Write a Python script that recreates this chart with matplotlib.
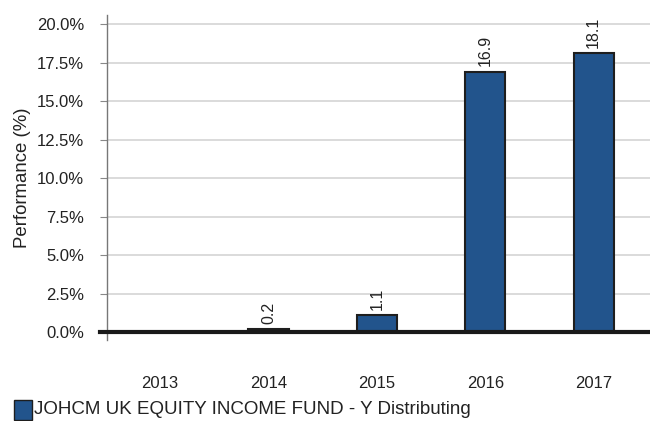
import matplotlib
matplotlib.use("Agg")
import matplotlib.pyplot as plt
import matplotlib.transforms as mtransforms
from matplotlib.patches import Rectangle

years = ["2013", "2014", "2015", "2016", "2017"]
values = [0.0, 0.2, 1.1, 16.9, 18.1]
labels = ["", "0.2", "1.1", "16.9", "18.1"]
yticks = [0, 2.5, 5, 7.5, 10, 12.5, 15, 17.5, 20]
series_name = "JOHCM UK EQUITY INCOME FUND - Y Distributing"

plt.rcParams['font.family'] = ['Liberation Sans', 'DejaVu Sans']
bar_color = "#22548c"
edge_color = "#1e1e1e"
text_color = "#222222"

fig = plt.figure(figsize=(6.5, 4.21), dpi=100)
ax = fig.add_axes([0.1646, 0.192, 0.8354, 0.772])

x = list(range(len(years)))
ax.bar(x, values, width=0.37, color=bar_color, edgecolor=edge_color, linewidth=1.5, zorder=3)
for xi, v, lab in zip(x, values, labels):
    if lab:
        ax.text(xi, v + 0.35, lab, rotation=90, ha='center', va='bottom', fontsize=11.5, color=text_color)

ax.set_xlim(-0.49, 4.52)
ax.set_ylim(-0.52, 20.58)
ax.set_yticks(yticks)
ax.set_yticklabels([f"{t:.1f}%" for t in yticks], fontsize=12, color=text_color)
ax.set_xticks(x)
ax.set_xticklabels(years, fontsize=12, color=text_color)
ax.tick_params(axis='x', length=0, pad=26)
ax.tick_params(axis='y', length=5, width=0.8, color="#888888", pad=11.5)
ax.grid(axis='y', color="#d4d4d4", linewidth=1.2, zorder=0)
for s in ['top', 'right', 'bottom']:
    ax.spines[s].set_visible(False)
ax.spines['left'].set_color("#777777")
ax.spines['left'].set_linewidth(1.0)
ax.set_ylabel("Performance (%)", fontsize=13.4, color=text_color, labelpad=4)

trans = mtransforms.blended_transform_factory(ax.transAxes, ax.transData)
ax.plot([-0.013, 1.0], [0, 0], transform=trans, color="#1a1a1a", linewidth=3, clip_on=False, zorder=4)

# legend
fig.patches.append(Rectangle((14/650, 1 - 420/421), 18/650, 20/421, transform=fig.transFigure,
                             facecolor=bar_color, edgecolor=edge_color, linewidth=1.0))
fig.text(34/650, 1 - 410/421, series_name, fontsize=13.5, color=text_color, va='center', ha='left')

fig.savefig("out.png", dpi=100)
